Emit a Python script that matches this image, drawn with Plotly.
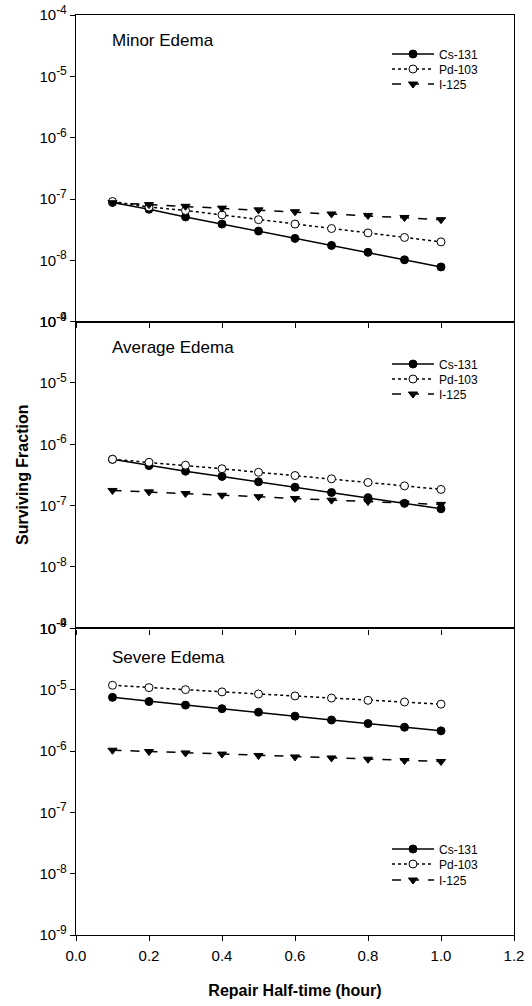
import plotly.graph_objects as go

# ---------------- data ----------------
repair_half_time = [0.1, 0.2, 0.3, 0.4, 0.5, 0.6, 0.7, 0.8, 0.9, 1.0]

panel_titles = ["Minor Edema", "Average Edema", "Severe Edema"]
series_names = ["Cs-131", "Pd-103", "I-125"]

minor_cs131 = [8.8e-8, 6.8e-8, 5.1e-8, 3.9e-8, 3.0e-8, 2.28e-8, 1.75e-8, 1.35e-8, 1.02e-8, 7.8e-9]
minor_pd103 = [9.1e-8, 7.4e-8, 6.5e-8, 5.5e-8, 4.6e-8, 3.9e-8, 3.3e-8, 2.8e-8, 2.36e-8, 2.0e-8]
minor_i125 = [8.7e-8, 8.1e-8, 7.6e-8, 7.1e-8, 6.65e-8, 6.2e-8, 5.7e-8, 5.4e-8, 5.0e-8, 4.6e-8]

average_cs131 = [5.7e-7, 4.5e-7, 3.65e-7, 3.0e-7, 2.45e-7, 2.0e-7, 1.64e-7, 1.35e-7, 1.09e-7, 8.9e-8]
average_pd103 = [5.7e-7, 5.1e-7, 4.57e-7, 4.0e-7, 3.5e-7, 3.1e-7, 2.74e-7, 2.39e-7, 2.1e-7, 1.84e-7]
average_i125 = [1.77e-7, 1.68e-7, 1.58e-7, 1.48e-7, 1.40e-7, 1.31e-7, 1.23e-7, 1.17e-7, 1.10e-7, 1.05e-7]

severe_cs131 = [7.5e-6, 6.4e-6, 5.6e-6, 4.9e-6, 4.3e-6, 3.7e-6, 3.2e-6, 2.8e-6, 2.44e-6, 2.13e-6]
severe_pd103 = [1.18e-5, 1.08e-5, 1.0e-5, 9.2e-6, 8.5e-6, 7.9e-6, 7.3e-6, 6.7e-6, 6.3e-6, 5.8e-6]
severe_i125 = [1.03e-6, 9.8e-7, 9.3e-7, 8.9e-7, 8.45e-7, 8.0e-7, 7.7e-7, 7.35e-7, 7.0e-7, 6.75e-7]

panels = [
    [minor_cs131, minor_pd103, minor_i125],
    [average_cs131, average_pd103, average_i125],
    [severe_cs131, severe_pd103, severe_i125],
]

x_tick_vals = [0.0, 0.2, 0.4, 0.6, 0.8, 1.0, 1.2]
x_tick_text = ["0.0", "0.2", "0.4", "0.6", "0.8", "1.0", "1.2"]
y_tick_vals = [1e-9, 1e-8, 1e-7, 1e-6, 1e-5, 1e-4]
y_tick_exponents = ["-9", "-8", "-7", "-6", "-5", "-4"]
y_tick_text = ['10<sup><span style="font-size:12px">%s</span></sup>' % e
               for e in y_tick_exponents]

# ---------------- layout geometry ----------------
W, H = 532, 1006
ML, MR, MT, MB = 76, 18, 15, 71
PW, PH = W - ML - MR, H - MT - MB

def px_x(px):
    return (px - ML) / PW

def px_y(py):
    return (H - MB - py) / PH

FONT = "Liberation Sans, Arial, sans-serif"

styles = [
    dict(line=dict(color="black", width=1.5, dash="solid"),
         marker=dict(symbol="circle", size=8, color="black",
                     line=dict(color="black", width=1))),
    dict(line=dict(color="black", width=1.5, dash="dot"),
         marker=dict(symbol="circle", size=8, color="white",
                     line=dict(color="black", width=1))),
    dict(line=dict(color="black", width=1.5, dash="dash"),
         marker=dict(symbol="triangle-down", size=8, color="black",
                     line=dict(color="black", width=1))),
]

# legend row centres (pixels) for each panel
legend_rows_px = [[54, 69, 84], [364, 379, 394], [849, 864, 880]]

fig = go.Figure()
for p in range(3):
    ax = "" if p == 0 else str(p + 1)
    for s in range(3):
        idx = 3 * p + s + 1
        lid = "legend" if idx == 1 else "legend%d" % idx
        fig.add_trace(go.Scatter(
            x=repair_half_time, y=panels[p][s], name=series_names[s],
            mode="lines+markers", xaxis="x" + ax, yaxis="y" + ax,
            legend=lid, **styles[s]))

domains = [[2 / 3, 1.0], [1 / 3, 2 / 3], [0.0, 1 / 3]]
layout = dict(
    width=W, height=H,
    margin=dict(l=ML, r=MR, t=MT, b=MB, autoexpand=False),
    paper_bgcolor="white", plot_bgcolor="white",
    font=dict(family=FONT, color="black", size=15),
    showlegend=True,
)
for p in range(3):
    suffix = "" if p == 0 else str(p + 1)
    layout["xaxis" + suffix] = dict(
        domain=[0, 1], range=[0, 1.2], anchor="y" + suffix,
        tickmode="array", tickvals=x_tick_vals, ticktext=x_tick_text,
        showticklabels=(p == 2), ticks="outside", ticklen=5, tickwidth=1,
        tickcolor="black", showline=True, linecolor="black", linewidth=1.4,
        mirror=True, showgrid=False, zeroline=False, automargin=False,
        tickfont=dict(size=15, family=FONT), ticklabelstandoff=2,
    )
    layout["yaxis" + suffix] = dict(
        domain=domains[p], type="log", range=[-9, -4], anchor="x" + suffix,
        tickmode="array", tickvals=y_tick_vals, ticktext=y_tick_text,
        ticks="outside", ticklen=5, tickwidth=1, tickcolor="black",
        showline=True, linecolor="black", linewidth=1.4, mirror=True,
        showgrid=False, zeroline=False, automargin=False,
        tickfont=dict(size=15, family=FONT),
    )
layout["xaxis3"]["title"] = dict(text="<b>Repair Half-time (hour)</b>",
                                 font=dict(size=16, family=FONT), standoff=21)

legend_common = dict(font=dict(size=12, family=FONT), bgcolor="rgba(0,0,0,0)",
                     borderwidth=0, xanchor="left", yanchor="middle",
                     tracegroupgap=0, itemwidth=42)
for p in range(3):
    for s in range(3):
        idx = 3 * p + s + 1
        lid = "legend" if idx == 1 else "legend%d" % idx
        layout[lid] = dict(x=px_x(387), y=px_y(legend_rows_px[p][s]), **legend_common)

title_y = [40, 348, 657]
annotations = []
for p in range(3):
    annotations.append(dict(text=panel_titles[p], x=px_x(110), y=px_y(title_y[p]),
                            xref="paper", yref="paper", xanchor="left", yanchor="middle",
                            showarrow=False, font=dict(size=17, family=FONT)))
annotations.append(dict(text="<b>Surviving Fraction</b>", x=px_x(22), y=px_y(475),
                        xref="paper", yref="paper", xanchor="center", yanchor="middle",
                        textangle=-90, showarrow=False, font=dict(size=16, family=FONT)))
layout["annotations"] = annotations

fig.update_layout(**layout)
fig.write_html("out.html", config={"displayModeBar": False},
               post_script="document.body.style.margin='0';")
